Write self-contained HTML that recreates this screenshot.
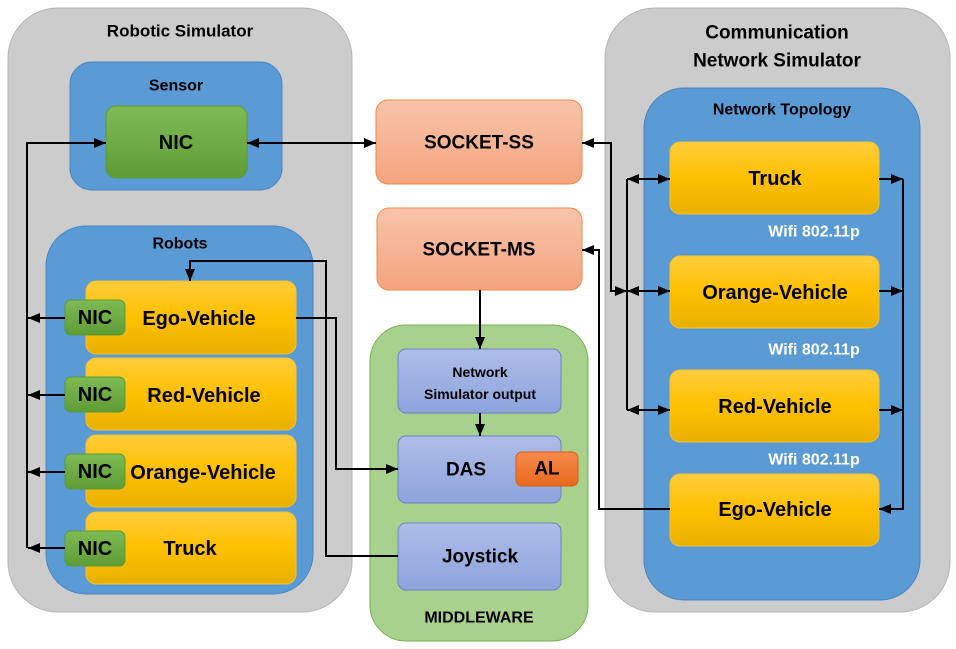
<!DOCTYPE html>
<html><head><meta charset="utf-8"><style>html,body{margin:0;padding:0;background:#fff}svg{display:block}text{font-family:"Liberation Sans",sans-serif;font-weight:bold;text-anchor:middle;dominant-baseline:central}</style></head><body>
<svg width="956" height="649" viewBox="0 0 956 649" xmlns="http://www.w3.org/2000/svg">
<defs>
<linearGradient id="y" x1="0" y1="0" x2="0" y2="1"><stop offset="0" stop-color="#ffcd3c"/><stop offset="0.5" stop-color="#ffc000"/><stop offset="1" stop-color="#e8b000"/></linearGradient>
<linearGradient id="g" x1="0" y1="0" x2="0" y2="1"><stop offset="0" stop-color="#7fbb55"/><stop offset="1" stop-color="#5e9c36"/></linearGradient>
<linearGradient id="o" x1="0" y1="0" x2="0" y2="1"><stop offset="0" stop-color="#f8c4aa"/><stop offset="1" stop-color="#f4a47e"/></linearGradient>
<linearGradient id="p" x1="0" y1="0" x2="0" y2="1"><stop offset="0" stop-color="#aebde8"/><stop offset="1" stop-color="#8ea4dc"/></linearGradient>
<linearGradient id="a" x1="0" y1="0" x2="0" y2="1"><stop offset="0" stop-color="#f68a4c"/><stop offset="1" stop-color="#e8691f"/></linearGradient>
<marker id="ar" viewBox="0 0 12 10" refX="12" refY="5" markerWidth="12" markerHeight="10" markerUnits="userSpaceOnUse" orient="auto-start-reverse"><path d="M0,0 L12,5 L0,10 z" fill="#000"/></marker>
</defs>
<rect x="8" y="8" width="344" height="604" rx="50" fill="#cccccc" stroke="#b5b5b5"/>
<text x="180" y="31" font-size="17">Robotic Simulator</text>
<rect x="70" y="62" width="212" height="128" rx="22" fill="#5b9bd5" stroke="#4a86c0"/>
<text x="176" y="86" font-size="16">Sensor</text>
<rect x="106" y="106" width="141" height="72" rx="10" fill="url(#g)" stroke="#5a9a36"/>
<text x="176" y="143" font-size="20">NIC</text>
<rect x="46" y="226" width="267" height="368" rx="40" fill="#5b9bd5" stroke="#4a86c0"/>
<text x="180" y="244" font-size="16">Robots</text>
<g fill="url(#y)" stroke="#f2c230">
<rect x="86" y="281" width="210" height="73" rx="10"/>
<rect x="86" y="358" width="210" height="72" rx="10"/>
<rect x="86" y="435" width="210" height="72" rx="10"/>
<rect x="86" y="512" width="210" height="72" rx="10"/>
</g>
<g font-size="20">
<text x="199" y="319">Ego-Vehicle</text>
<text x="204" y="396">Red-Vehicle</text>
<text x="203" y="473">Orange-Vehicle</text>
<text x="190" y="549">Truck</text>
</g>
<g fill="url(#g)" stroke="#5a9a36">
<rect x="65" y="300" width="60" height="35" rx="6"/>
<rect x="65" y="377" width="60" height="35" rx="6"/>
<rect x="65" y="454" width="60" height="35" rx="6"/>
<rect x="65" y="531" width="60" height="35" rx="6"/>
</g>
<g font-size="20"><text x="95" y="318">NIC</text><text x="95" y="395">NIC</text><text x="95" y="472">NIC</text><text x="95" y="549">NIC</text></g>
<rect x="605" y="8" width="345" height="604" rx="50" fill="#cccccc" stroke="#b5b5b5"/>
<text x="777" y="33" font-size="19">Communication</text>
<text x="777" y="61" font-size="19">Network Simulator</text>
<rect x="644" y="88" width="276" height="512" rx="40" fill="#5b9bd5" stroke="#4a86c0"/>
<text x="782" y="110" font-size="16">Network Topology</text>
<g fill="url(#y)" stroke="#f2c230">
<rect x="670" y="142" width="209" height="72" rx="10"/>
<rect x="670" y="256" width="209" height="72" rx="10"/>
<rect x="670" y="370" width="209" height="72" rx="10"/>
<rect x="670" y="474" width="209" height="72" rx="10"/>
</g>
<g font-size="20">
<text x="775" y="179">Truck</text>
<text x="775" y="293">Orange-Vehicle</text>
<text x="775" y="407">Red-Vehicle</text>
<text x="775" y="510">Ego-Vehicle</text>
</g>
<g font-size="16" fill="#fff"><text x="814" y="232">Wifi 802.11p</text><text x="814" y="350">Wifi 802.11p</text><text x="814" y="460">Wifi 802.11p</text></g>
<rect x="376" y="100" width="206" height="84" rx="12" fill="url(#o)" stroke="#ee8a4a"/>
<text x="479" y="143" font-size="19">SOCKET-SS</text>
<rect x="377" y="208" width="205" height="82" rx="12" fill="url(#o)" stroke="#ee8a4a"/>
<text x="479" y="250" font-size="19">SOCKET-MS</text>
<rect x="370" y="325" width="218" height="316" rx="36" fill="#a9d18e" stroke="#78b050"/>
<text x="479" y="618" font-size="16">MIDDLEWARE</text>
<g fill="url(#p)" stroke="#6a82c8">
<rect x="398" y="349" width="163" height="64" rx="8"/>
<rect x="398" y="436" width="163" height="67" rx="8"/>
<rect x="398" y="523" width="163" height="67" rx="8"/>
</g>
<text x="480" y="372" font-size="14">Network</text>
<text x="480" y="394" font-size="14">Simulator output</text>
<text x="466" y="470" font-size="19">DAS</text>
<text x="480" y="557" font-size="19">Joystick</text>
<rect x="516" y="452" width="62" height="34" rx="6" fill="url(#a)" stroke="#d85d15"/>
<text x="547" y="469" font-size="19">AL</text>
<g stroke="#000" stroke-width="2" fill="none">
<path d="M27,548 V143 H106" marker-end="url(#ar)"/>
<path d="M65,318 H28" marker-end="url(#ar)"/>
<path d="M65,395 H28" marker-end="url(#ar)"/>
<path d="M65,472 H28" marker-end="url(#ar)"/>
<path d="M65,548 H28" marker-end="url(#ar)"/>
<path d="M247,143 H376" marker-start="url(#ar)" marker-end="url(#ar)"/>
<path d="M398,556 H326 V261 H190 V281" marker-end="url(#ar)"/>
<path d="M296,318 H336 V469 H398" marker-end="url(#ar)"/>
<path d="M480,290 V349" marker-end="url(#ar)"/>
<path d="M480,413 V436" marker-end="url(#ar)"/>
<path d="M627,291 H611 V143 H582" marker-end="url(#ar)"/>
<path d="M611,291 H627" marker-end="url(#ar)"/>
<path d="M670,509 H599 V250 H582" marker-end="url(#ar)"/>
<path d="M627,179 V410"/>
<path d="M627,179 H670" marker-start="url(#ar)" marker-end="url(#ar)"/>
<path d="M627,291 H670" marker-start="url(#ar)" marker-end="url(#ar)"/>
<path d="M627,410 H670" marker-start="url(#ar)" marker-end="url(#ar)"/>
<path d="M879,179 H903" marker-end="url(#ar)"/>
<path d="M879,291 H903" marker-end="url(#ar)"/>
<path d="M879,410 H903" marker-end="url(#ar)"/>
<path d="M903,179 V509 H879" marker-end="url(#ar)"/>
</g>
</svg>
</body></html>
